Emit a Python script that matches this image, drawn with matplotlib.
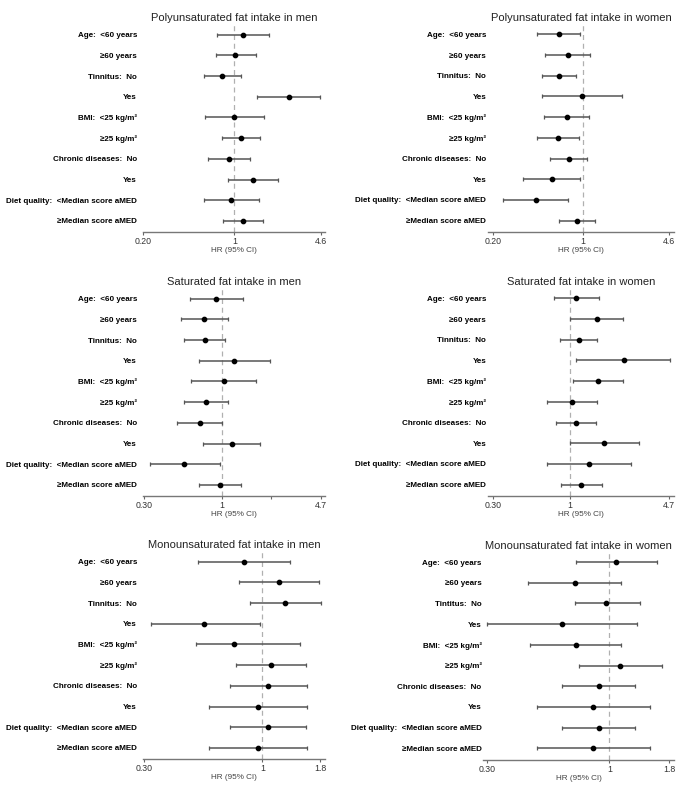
import numpy as np
import matplotlib.pyplot as plt

plt.rcParams['font.family'] = ['Liberation Sans', 'DejaVu Sans']

# row labels (top to bottom)
labels = ["Age:  <60 years", "≥60 years", "Tinnitus:  No", "Yes",
          "BMI:  <25 kg/m²", "≥25 kg/m²", "Chronic diseases:  No", "Yes",
          "Diet quality:  <Median score aMED", "≥Median score aMED"]
labels_mufa_women = ["Age:  <60 years", "≥60 years", "Tintitus:  No", "Yes",
                     "BMI:  <25 kg/m²", "≥25 kg/m²", "Chronic diseases:  No", "Yes",
                     "Diet quality:  <Median score aMED", "≥Median score aMED"]

# hazard ratios with 95% CI
pufa_men_hr = [1.16, 1.02, 0.80, 2.62, 1.00, 1.12, 0.91, 1.39, 0.95, 1.17]
pufa_men_lo = [0.74, 0.72, 0.58, 1.50, 0.60, 0.80, 0.63, 0.89, 0.58, 0.82]
pufa_men_hi = [1.83, 1.47, 1.12, 4.56, 1.68, 1.58, 1.31, 2.18, 1.55, 1.67]

pufa_women_hr = [0.65, 0.76, 0.65, 0.98, 0.75, 0.64, 0.77, 0.57, 0.43, 0.89]
pufa_women_lo = [0.44, 0.51, 0.48, 0.48, 0.50, 0.44, 0.55, 0.34, 0.24, 0.65]
pufa_women_hi = [0.94, 1.13, 0.88, 1.99, 1.11, 0.93, 1.06, 0.94, 0.76, 1.24]

sfa_men_hr = [0.92, 0.76, 0.77, 1.22, 1.04, 0.79, 0.71, 1.17, 0.56, 0.97]
sfa_men_lo = [0.61, 0.53, 0.56, 0.70, 0.62, 0.56, 0.50, 0.75, 0.33, 0.70]
sfa_men_hi = [1.40, 1.11, 1.06, 2.12, 1.71, 1.10, 1.01, 1.83, 0.97, 1.36]

sfa_women_hr = [1.10, 1.52, 1.14, 2.32, 1.55, 1.03, 1.09, 1.71, 1.35, 1.18]
sfa_women_lo = [0.77, 1.00, 0.85, 1.10, 1.04, 0.70, 0.80, 1.00, 0.70, 0.86]
sfa_women_hi = [1.58, 2.30, 1.53, 4.80, 2.30, 1.51, 1.49, 2.93, 2.61, 1.64]

mufa_men_hr = [0.83, 1.18, 1.26, 0.55, 0.75, 1.09, 1.06, 0.96, 1.06, 0.96]
mufa_men_lo = [0.52, 0.79, 0.88, 0.32, 0.51, 0.76, 0.72, 0.58, 0.72, 0.58]
mufa_men_hi = [1.33, 1.78, 1.82, 0.97, 1.47, 1.56, 1.57, 1.57, 1.56, 1.57]

mufa_women_hr = [1.07, 0.71, 0.97, 0.63, 0.72, 1.11, 0.90, 0.85, 0.90, 0.85]
mufa_women_lo = [0.72, 0.45, 0.71, 0.30, 0.46, 0.74, 0.63, 0.49, 0.63, 0.49]
mufa_women_hi = [1.59, 1.12, 1.35, 1.31, 1.12, 1.67, 1.28, 1.49, 1.28, 1.49]

W, H = 685, 788
fig = plt.figure(figsize=(W / 100, H / 100), dpi=100)

# (title, labels, hr, lo, hi, ticks, ticklabels, minor ticks, xlim, left px, right px, spine y px, label pad)
panels = [
    ("Polyunsaturated fat intake in men", labels, pufa_men_hr, pufa_men_lo, pufa_men_hi,
     [0.2, 1, 4.6], ["0.20", "1", "4.6"], [], (0.2, 4.96), 143.3, 325, 232.3, 4.5),
    ("Polyunsaturated fat intake in women", labels, pufa_women_hr, pufa_women_lo, pufa_women_hi,
     [0.2, 1, 4.6], ["0.20", "1", "4.6"], [], (0.185, 5.02), 488.3, 674, 232.0, 1.5),
    ("Saturated fat intake in men", labels, sfa_men_hr, sfa_men_lo, sfa_men_hi,
     [0.3, 1, 4.7], ["0.30", "1", "4.7"], [np.sqrt(4.7)], (0.295, 5.03), 143.3, 325, 496.3, 4.5),
    ("Saturated fat intake in women", labels, sfa_women_hr, sfa_women_lo, sfa_women_hi,
     [0.3, 1, 4.7], ["0.30", "1", "4.7"], [], (0.277, 5.08), 488.3, 674, 496.0, 1.5),
    ("Monounsaturated fat intake in men", labels, mufa_men_hr, mufa_men_lo, mufa_men_hi,
     [0.3, 1, 1.8], ["0.30", "1", "1.8"], [], (0.297, 1.89), 143.3, 325, 759.3, 4.5),
    ("Monounsaturated fat intake in women", labels_mufa_women, mufa_women_hr, mufa_women_lo,
     mufa_women_hi, [0.3, 1, 1.8], ["0.30", "1", "1.8"], [], (0.289, 1.885), 483, 674, 759.7, 1.0),
]

ax_h = 207.0
for (title, labs, hr, lo, hi, ticks, tlabs, minor, xlim, left, right, spine_y, lpad) in panels:
    ax = fig.add_axes([left / W, (H - spine_y) / H, (right - left) / W, ax_h / H])
    hr = np.array(hr)
    lo = np.array(lo)
    hi = np.array(hi)
    y = np.arange(len(hr))

    ax.axvline(1, color='#b0b0b0', linestyle=(0, (4, 3)), lw=0.9, zorder=0)
    ax.errorbar(hr, y, xerr=[hr - lo, hi - hr], fmt='o', color='black',
                ecolor='#555555', elinewidth=1.1, capsize=1.7, capthick=0.9,
                markersize=3.1, zorder=3)

    ax.set_xscale('log')
    ax.set_xlim(*xlim)
    ax.set_ylim(9.55, -0.45)
    ax.set_xticks(ticks)
    ax.set_xticklabels(tlabs)
    ax.set_xticks(minor, minor=True)
    ax.set_xticklabels([""] * len(minor), minor=True)
    ax.tick_params(axis='x', which='both', length=2.5, width=0.8, color='#666666',
                   labelsize=6.3, labelcolor='#333333', pad=1.2)
    ax.set_yticks(y)
    ax.set_yticklabels(labs, fontweight='bold', fontsize=5.8)
    ax.tick_params(axis='y', length=0, pad=lpad)

    for s in ['top', 'right', 'left']:
        ax.spines[s].set_visible(False)
    ax.spines['bottom'].set_color('#777777')
    ax.spines['bottom'].set_linewidth(1.0)

    ax.set_xlabel("HR (95% CI)", fontsize=5.9, color='#444444', labelpad=0.5)
    ax.set_title(title, fontsize=8.0, color='#222222', pad=3.0)

fig.savefig("out.png", dpi=100, facecolor='white')
